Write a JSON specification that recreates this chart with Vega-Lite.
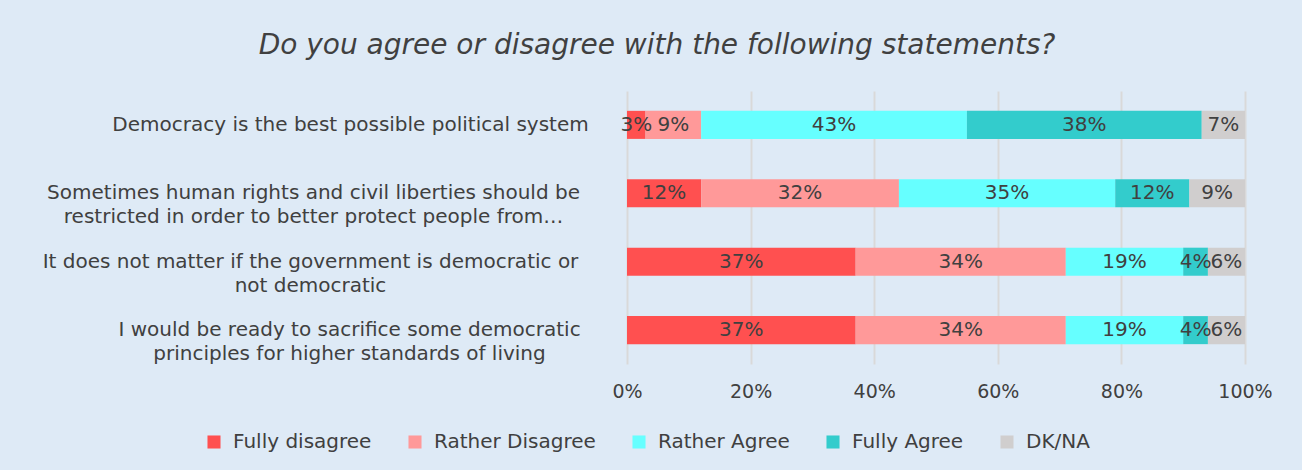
{
  "$schema": "https://vega.github.io/schema/vega-lite/v6.json",
  "autosize": {"type": "none"},
  "padding": {"left": 627, "top": 91, "right": 57, "bottom": 106},
  "width": 618,
  "height": 273,
  "background": "#DEEAF6",
  "config": {
    "view": {"stroke": null},
    "font": "DejaVu Sans",
    "text": {"font": "DejaVu Sans"}
  },
  "title": {
    "text": "Do you agree or disagree with the following statements?",
    "font": "DejaVu Sans",
    "fontSize": 28,
    "fontStyle": "italic",
    "fontWeight": "normal",
    "color": "#404040",
    "anchor": "middle",
    "frame": "group",
    "dx": -279,
    "offset": 31
  },
  "data": {
    "values": [
      {"q": "Democracy is the best possible political system", "resp": "Fully disagree", "v": 0.03},
      {"q": "Democracy is the best possible political system", "resp": "Rather Disagree", "v": 0.09},
      {"q": "Democracy is the best possible political system", "resp": "Rather Agree", "v": 0.43},
      {"q": "Democracy is the best possible political system", "resp": "Fully Agree", "v": 0.38},
      {"q": "Democracy is the best possible political system", "resp": "DK/NA", "v": 0.07},
      {"q": "Sometimes human rights and civil liberties should be|restricted in order to better protect people from…", "resp": "Fully disagree", "v": 0.12},
      {"q": "Sometimes human rights and civil liberties should be|restricted in order to better protect people from…", "resp": "Rather Disagree", "v": 0.32},
      {"q": "Sometimes human rights and civil liberties should be|restricted in order to better protect people from…", "resp": "Rather Agree", "v": 0.35},
      {"q": "Sometimes human rights and civil liberties should be|restricted in order to better protect people from…", "resp": "Fully Agree", "v": 0.12},
      {"q": "Sometimes human rights and civil liberties should be|restricted in order to better protect people from…", "resp": "DK/NA", "v": 0.09},
      {"q": "It does not matter if the government is democratic or|not democratic", "resp": "Fully disagree", "v": 0.37},
      {"q": "It does not matter if the government is democratic or|not democratic", "resp": "Rather Disagree", "v": 0.34},
      {"q": "It does not matter if the government is democratic or|not democratic", "resp": "Rather Agree", "v": 0.19},
      {"q": "It does not matter if the government is democratic or|not democratic", "resp": "Fully Agree", "v": 0.04},
      {"q": "It does not matter if the government is democratic or|not democratic", "resp": "DK/NA", "v": 0.06},
      {"q": "I would be ready to sacrifice some democratic|principles for higher standards of living", "resp": "Fully disagree", "v": 0.37},
      {"q": "I would be ready to sacrifice some democratic|principles for higher standards of living", "resp": "Rather Disagree", "v": 0.34},
      {"q": "I would be ready to sacrifice some democratic|principles for higher standards of living", "resp": "Rather Agree", "v": 0.19},
      {"q": "I would be ready to sacrifice some democratic|principles for higher standards of living", "resp": "Fully Agree", "v": 0.04},
      {"q": "I would be ready to sacrifice some democratic|principles for higher standards of living", "resp": "DK/NA", "v": 0.06}
    ]
  },
  "transform": [
    {"calculate": "indexof(['Fully disagree','Rather Disagree','Rather Agree','Fully Agree','DK/NA'], datum.resp)", "as": "k"},
    {"stack": "v", "groupby": ["q"], "sort": [{"field": "k", "order": "ascending"}], "as": ["v0", "v1"]},
    {"calculate": "(datum.v0 + datum.v1) / 2", "as": "mid"}
  ],
  "encoding": {
    "y": {
      "field": "q",
      "type": "nominal",
      "sort": null,
      "title": null,
      "scale": {"paddingInner": 0.59, "paddingOuter": 0.29},
      "axis": {
        "labelExpr": "split(datum.label, '|')",
        "labelFontSize": 20,
        "labelColor": "#404040",
        "labelFont": "DejaVu Sans",
        "labelLineHeight": 24,
        "labelAlign": "center",
        "labelPadding": {
          "condition": [
            {"test": "indexof(datum.value, 'Democracy') == 0", "value": 277},
            {"test": "indexof(datum.value, 'Sometimes') == 0", "value": 314},
            {"test": "indexof(datum.value, 'It does') == 0", "value": 317}
          ],
          "value": 278
        },
        "labelLimit": 700,
        "domain": false,
        "ticks": false,
        "grid": false
      }
    }
  },
  "layer": [
    {
      "mark": {"type": "bar"},
      "encoding": {
        "x": {
          "field": "v0",
          "type": "quantitative",
          "title": null,
          "scale": {"domain": [0, 1], "nice": false},
          "axis": {
            "values": [0, 0.2, 0.4, 0.6, 0.8, 1],
            "format": ".0%",
            "labelFontSize": 19,
            "labelColor": "#404040",
            "labelFont": "DejaVu Sans",
            "labelPadding": 18,
            "labelFlush": false,
            "domain": false,
            "ticks": false,
            "grid": true,
            "gridColor": "#D9D9D9",
            "gridWidth": 2
          }
        },
        "x2": {"field": "v1"},
        "color": {
          "field": "resp",
          "type": "nominal",
          "title": null,
          "scale": {
            "domain": ["Fully disagree", "Rather Disagree", "Rather Agree", "Fully Agree", "DK/NA"],
            "range": ["#FF5050", "#FF9999", "#66FFFF", "#33CCCC", "#D0CECE"]
          },
          "legend": {
            "orient": "none",
            "direction": "horizontal",
            "legendX": -423,
            "legendY": 341,
            "symbolType": "square",
            "symbolSize": 170,
            "symbolStrokeWidth": 0,
            "labelFontSize": 20,
            "labelFont": "DejaVu Sans",
            "labelColor": "#404040",
            "columnPadding": 33,
            "labelOffset": 9,
            "labelLimit": 300
          }
        }
      }
    },
    {
      "mark": {"type": "text", "fontSize": 20, "color": "#404040", "font": "DejaVu Sans"},
      "encoding": {
        "x": {"field": "mid", "type": "quantitative"},
        "text": {"field": "v", "type": "quantitative", "format": ".0%"}
      }
    }
  ]
}
